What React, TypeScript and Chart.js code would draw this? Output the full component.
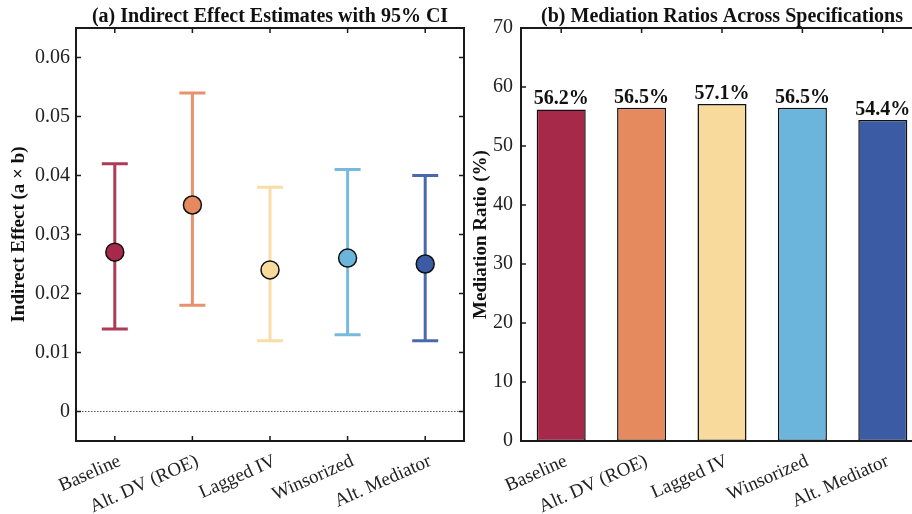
import React, { useEffect, useRef } from "react";
import { Chart, registerables } from "chart.js";

Chart.register(...registerables);

const categories = ["Baseline", "Alt. DV (ROE)", "Lagged IV", "Winsorized", "Alt. Mediator"];
const indirectEffects = [0.027, 0.035, 0.024, 0.026, 0.025];
const ciLower = [0.014, 0.018, 0.012, 0.013, 0.012];
const ciUpper = [0.042, 0.054, 0.038, 0.041, 0.04];
const mediationRatios = [56.2, 56.5, 57.1, 56.5, 54.4];
const indirectTicks = [0, 0.01, 0.02, 0.03, 0.04, 0.05, 0.06];
const ratioTicks = [0, 10, 20, 30, 40, 50, 60, 70];
const specColors = ["#A7294A", "#E5895F", "#F8DA9D", "#6BB4DB", "#3B5CA5"];

const SERIF = "'Liberation Serif', 'Times New Roman', serif";
const INK = "#1a1a1a";

function hexA(hex: string, a: number) {
  const n = parseInt(hex.slice(1), 16);
  return `rgba(${(n >> 16) & 255},${(n >> 8) & 255},${n & 255},${a})`;
}

function framePlugin(opts: { rightTicks: boolean; bottomTicks: boolean; title: string }) {
  return {
    id: "frame",
    afterDraw(chart: any) {
      const { ctx, chartArea } = chart;
      const { left, right, top, bottom } = chartArea;
      const xs = chart.scales.x;
      const ys = chart.scales.y;
      ctx.save();
      ctx.strokeStyle = INK;
      ctx.lineWidth = 2;
      ctx.strokeRect(left, top, right - left, bottom - top);
      ctx.lineWidth = 1.5;
      const L = 5;
      ctx.beginPath();
      xs.ticks.forEach((_t: any, i: number) => {
        const px = xs.getPixelForTick(i);
        ctx.moveTo(px, top);
        ctx.lineTo(px, top + L);
        if (opts.bottomTicks) {
          ctx.moveTo(px, bottom);
          ctx.lineTo(px, bottom - L);
        }
      });
      ys.ticks.forEach((_t: any, i: number) => {
        const py = ys.getPixelForTick(i);
        ctx.moveTo(left, py);
        ctx.lineTo(left + L, py);
        if (opts.rightTicks) {
          ctx.moveTo(right, py);
          ctx.lineTo(right - L, py);
        }
      });
      ctx.stroke();
      ctx.fillStyle = "#111";
      ctx.font = `bold 20px ${SERIF}`;
      ctx.textAlign = "center";
      ctx.textBaseline = "alphabetic";
      ctx.fillText(opts.title, (left + right) / 2, 22);
      ctx.restore();
    },
  };
}

const errorBarPlugin = {
  id: "errorBars",
  beforeDatasetsDraw(chart: any) {
    const { ctx, chartArea } = chart;
    const xs = chart.scales.x;
    const ys = chart.scales.y;
    ctx.save();
    // zero reference line
    const y0 = ys.getPixelForValue(0);
    ctx.strokeStyle = "#555";
    ctx.lineWidth = 1;
    ctx.setLineDash([1.5, 1.5]);
    ctx.beginPath();
    ctx.moveTo(chartArea.left, y0);
    ctx.lineTo(chartArea.right, y0);
    ctx.stroke();
    ctx.setLineDash([]);
    ctx.lineWidth = 3;
    categories.forEach((_c, i) => {
      const x = xs.getPixelForValue(i);
      const yl = ys.getPixelForValue(ciLower[i]);
      const yu = ys.getPixelForValue(ciUpper[i]);
      const cap = 13;
      ctx.strokeStyle = hexA(specColors[i], 0.92);
      ctx.beginPath();
      ctx.moveTo(x, yl);
      ctx.lineTo(x, yu);
      ctx.moveTo(x - cap, yl);
      ctx.lineTo(x + cap, yl);
      ctx.moveTo(x - cap, yu);
      ctx.lineTo(x + cap, yu);
      ctx.stroke();
    });
    ctx.restore();
  },
};

const barLabelPlugin = {
  id: "barLabels",
  afterDatasetsDraw(chart: any) {
    const { ctx } = chart;
    const meta = chart.getDatasetMeta(0);
    ctx.save();
    ctx.fillStyle = "#111";
    ctx.font = `bold 20px ${SERIF}`;
    ctx.textAlign = "center";
    ctx.textBaseline = "alphabetic";
    meta.data.forEach((el: any, i: number) => {
      ctx.fillText(`${mediationRatios[i].toFixed(1)}%`, el.x, el.y - 5);
    });
    ctx.restore();
  },
};

const tickFont = { family: SERIF, size: 20 };
const xTickFont = { family: SERIF, size: 19 };
const axisTitleFont = { family: SERIF, size: 19, weight: "bold" as const };

const xAxisFit = (s: any) => {
  s.height = 73;
  s.paddingLeft = 0;
  s.paddingRight = 0;
};

export default function App() {
  const refA = useRef<HTMLCanvasElement>(null);
  const refB = useRef<HTMLCanvasElement>(null);

  useEffect(() => {
    const chartA = new Chart(refA.current!, {
      type: "line",
      data: {
        labels: categories,
        datasets: [
          {
            data: indirectEffects,
            showLine: false,
            pointRadius: 9,
            pointHoverRadius: 9,
            pointBackgroundColor: specColors,
            pointBorderColor: "#111",
            pointBorderWidth: 1.5,
          },
        ],
      },
      options: {
        responsive: false,
        animation: false,
        devicePixelRatio: 1,
        layout: { autoPadding: false, padding: { left: 0, right: 6, top: 28, bottom: 0 } },
        plugins: { legend: { display: false }, tooltip: { enabled: false }, title: { display: false } },
        scales: {
          x: {
            offset: true,
            grid: { display: false, drawTicks: false },
            border: { display: false },
            ticks: { font: xTickFont, color: "#222", minRotation: 24, maxRotation: 24, autoSkip: false, padding: 9, labelOffset: 5 },
            afterFit: xAxisFit,
          },
          y: {
            min: -0.005,
            max: 0.065,
            grid: { display: false, drawTicks: false },
            border: { display: false },
            afterBuildTicks: (s: any) => {
              s.ticks = indirectTicks.map((v) => ({ value: v }));
            },
            ticks: {
              font: tickFont,
              color: "#222",
              padding: 6,
              callback: (v: any) => (Number(v) === 0 ? "0" : Number(v).toFixed(2)),
            },
            title: { display: true, text: "Indirect Effect (a × b)", font: axisTitleFont, color: "#111", padding: { top: 8, bottom: 0 } },
            afterFit: (s: any) => {
              s.width = 76;
            },
          },
        },
      },
      plugins: [errorBarPlugin, framePlugin({ rightTicks: true, bottomTicks: true, title: "(a) Indirect Effect Estimates with 95% CI" })],
    } as any);

    const chartB = new Chart(refB.current!, {
      type: "bar",
      data: {
        labels: categories,
        datasets: [
          {
            data: mediationRatios,
            backgroundColor: specColors,
            borderColor: "#111",
            borderWidth: 1.5,
            borderSkipped: false,
            barPercentage: 0.61,
            categoryPercentage: 1,
          },
        ],
      },
      options: {
        responsive: false,
        animation: false,
        devicePixelRatio: 1,
        layout: { autoPadding: false, padding: { left: 0, right: 9, top: 28, bottom: 0 } },
        plugins: { legend: { display: false }, tooltip: { enabled: false }, title: { display: false } },
        scales: {
          x: {
            grid: { display: false, drawTicks: false },
            border: { display: false },
            ticks: { font: xTickFont, color: "#222", minRotation: 24, maxRotation: 24, autoSkip: false, padding: 9, labelOffset: 5 },
            afterFit: xAxisFit,
          },
          y: {
            min: 0,
            max: 70,
            grid: { display: false, drawTicks: false },
            border: { display: false },
            afterBuildTicks: (s: any) => {
              s.ticks = ratioTicks.map((v) => ({ value: v }));
            },
            ticks: { font: tickFont, color: "#222", padding: 8 },
            title: { display: true, text: "Mediation Ratio (%)", font: axisTitleFont, color: "#111", padding: { top: 8, bottom: 0 } },
            afterFit: (s: any) => {
              s.width = 59;
            },
          },
        },
      },
      plugins: [barLabelPlugin, framePlugin({ rightTicks: false, bottomTicks: false, title: "(b) Mediation Ratios Across Specifications" })],
    } as any);

    return () => {
      chartA.destroy();
      chartB.destroy();
    };
  }, []);

  return (
    <div style={{ position: "fixed", left: 0, top: 0, width: 912, height: 514, overflow: "hidden", background: "#fff" }}>
      <canvas ref={refA} width={470} height={514} style={{ position: "absolute", left: 0, top: 0, width: 470, height: 514 }} />
      <canvas ref={refB} width={470} height={514} style={{ position: "absolute", left: 462, top: 0, width: 470, height: 514 }} />
    </div>
  );
}
